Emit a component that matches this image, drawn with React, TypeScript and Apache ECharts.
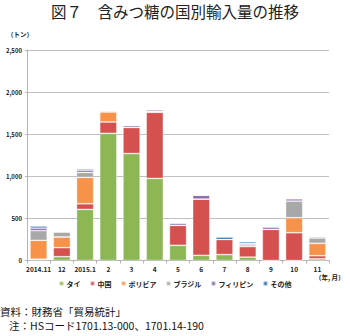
import React, { useEffect, useRef } from "react";
import * as echarts from "echarts";

const categories = ["2014.11", "12", "2015.1", "2", "3", "4", "5", "6", "7", "8", "9", "10", "11"];
const thai = [15, 45, 607, 1510, 1270, 975, 180, 62, 70, 40, 0, 0, 20];
const china = [0, 107, 67, 135, 310, 785, 238, 668, 180, 125, 370, 330, 37];
const bolivia = [225, 127, 313, 120, 0, 10, 0, 0, 0, 22, 0, 178, 147];
const brazil = [115, 60, 59, 0, 0, 0, 0, 0, 0, 0, 0, 198, 63];
const philippines = [30, 0, 27, 12, 22, 20, 25, 44, 0, 18, 28, 27, 15];
const others = [25, 0, 16, 0, 0, 0, 0, 0, 28, 20, 0, 0, 0];
const yTicks = [0, 500, 1000, 1500, 2000, 2500];

const seriesDefs = [
  { name: "タイ", data: thai, color: "#8db654" },
  { name: "中国", data: china, color: "#d45150" },
  { name: "ボリビア", data: bolivia, color: "#f6924a" },
  { name: "ブラジル", data: brazil, color: "#a8a8a8" },
  { name: "フィリピン", data: philippines, color: "#8a68ac" },
  { name: "その他", data: others, color: "#2f6fae" },
];

const FONT = "'Noto Sans CJK JP', 'Noto Sans', sans-serif";

export default function App() {
  const ref = useRef<HTMLDivElement>(null);
  useEffect(() => {
    if (!ref.current) return;
    const chart = echarts.init(ref.current, null, { renderer: "svg" });
    chart.setOption({
      animation: false,
      backgroundColor: "#ffffff",
      textStyle: { fontFamily: FONT },
      grid: { left: 27, right: 21, top: 50, bottom: 75.5 },
      legend: {
        bottom: 44,
        left: "center",
        itemWidth: 4,
        itemHeight: 4,
        itemGap: 9,
        icon: "rect",
        textStyle: { fontSize: 7, fontWeight: "bold", color: "#222", fontFamily: FONT, padding: [0, 0, 0, -2] },
        data: seriesDefs.map((s) => s.name),
      },
      xAxis: {
        type: "category",
        data: categories,
        axisLine: { lineStyle: { color: "#b5b5b5", width: 1 } },
        axisTick: { show: true, length: 3, lineStyle: { color: "#b5b5b5" } },
        axisLabel: { fontSize: 6.5, fontWeight: "bold", color: "#222", margin: 5, interval: 0, fontFamily: FONT },
      },
      yAxis: {
        type: "value",
        min: 0,
        max: 2500,
        interval: 500,
        axisLine: { show: true, lineStyle: { color: "#b5b5b5" } },
        axisTick: { show: true, length: 2, lineStyle: { color: "#b5b5b5" } },
        splitLine: { lineStyle: { color: "#c0c0c0", width: 1 } },
        axisLabel: {
          fontSize: 6,
          fontWeight: "bold",
          color: "#222",
          margin: 5,
          fontFamily: FONT,
          formatter: (v: number) => (yTicks.includes(v) ? v.toLocaleString("en-US") : ""),
        },
      },
      series: seriesDefs.map((s) => ({
        name: s.name,
        type: "bar",
        stack: "total",
        barWidth: "74%",
        data: s.data,
        itemStyle: { color: s.color, borderColor: "rgba(255,255,255,0.45)", borderWidth: 0.8 },
      })),
      graphic: [
        {
          type: "text",
          left: "center",
          top: 3,
          style: { text: "図７　含みつ糖の国別輸入量の推移", fontSize: 15.5, fontWeight: "normal", fill: "#222", fontFamily: FONT },
        },
        {
          type: "text",
          left: 7,
          top: 31,
          style: { text: "（トン）", fontSize: 6.5, fontWeight: "bold", fill: "#222", fontFamily: FONT },
        },
        {
          type: "text",
          left: 315,
          top: 274,
          style: { text: "（年, 月）", fontSize: 6.5, fontWeight: "bold", fill: "#222", fontFamily: FONT },
        },
        {
          type: "text",
          left: 0,
          top: 306,
          style: { text: "資料：財務省「貿易統計」", fontSize: 10.5, fill: "#111", fontFamily: FONT },
        },
        {
          type: "text",
          left: 9,
          top: 320,
          style: { text: "注：HSコード1701.13-000、1701.14-190", fontSize: 10.5, fill: "#111", fontFamily: FONT },
        },
      ],
    });
    return () => chart.dispose();
  }, []);
  return <div ref={ref} style={{ position: "fixed", left: 0, top: 0, width: 350, height: 336 }} />;
}
